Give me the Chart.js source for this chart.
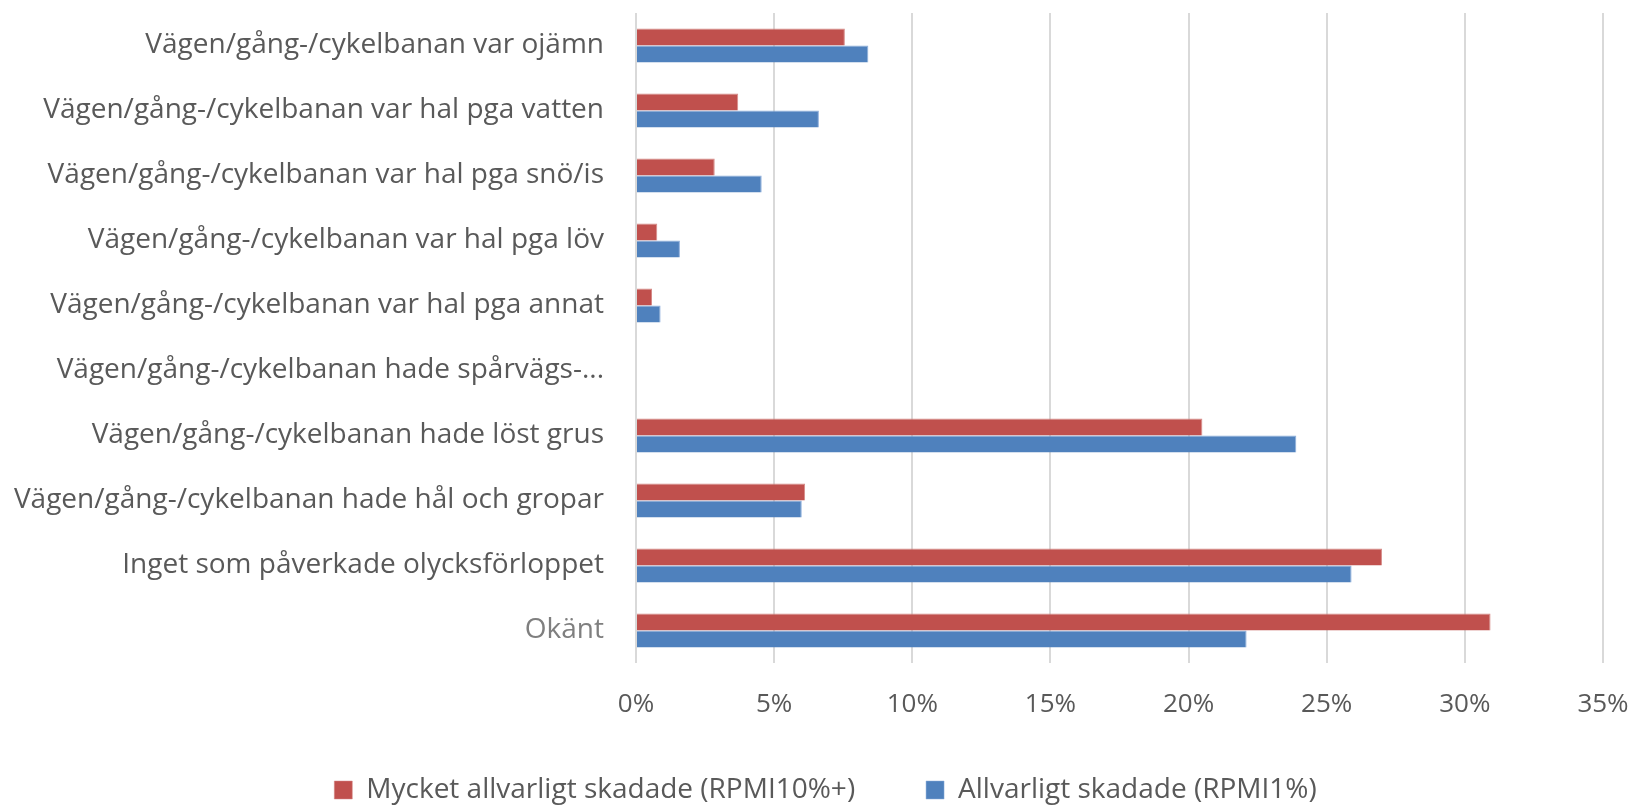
<!DOCTYPE html>
<html>
<head>
<meta charset="utf-8">
<script src="https://cdn.jsdelivr.net/npm/chart.js@4"></script>
<style>
  html, body { margin: 0; padding: 0; background: #fff; }
  canvas { display: block; }
</style>
</head>
<body>
<canvas id="chart" width="1635" height="805"></canvas>
<script>
// Categories, top to bottom
const categories = [
  'Vägen/gång-/cykelbanan var ojämn',
  'Vägen/gång-/cykelbanan var hal pga vatten',
  'Vägen/gång-/cykelbanan var hal pga snö/is',
  'Vägen/gång-/cykelbanan var hal pga löv',
  'Vägen/gång-/cykelbanan var hal pga annat',
  'Vägen/gång-/cykelbanan hade spårvägs-...',
  'Vägen/gång-/cykelbanan hade löst grus',
  'Vägen/gång-/cykelbanan hade hål och gropar',
  'Inget som påverkade olycksförloppet',
  'Okänt'
]

const seriesNames = ['Mycket allvarligt skadade (RPMI10%+)', 'Allvarligt skadade (RPMI1%)']

// percent values
const mycketAllvarligt = [7.56, 3.70, 2.85, 0.77, 0.58, 0, 20.5, 6.12, 27.0, 30.93]
const allvarligt = [8.41, 6.62, 4.55, 1.59, 0.89, 0, 23.9, 6.0, 25.9, 22.1]

const xMin = 0
const xMax = 35
const xStep = 5

const textColor = '#595959'
const fontFamily = '"Open Sans", sans-serif'
const noColor = 'rgba(0,0,0,0)'

// nudge the legend a bit right so it sits like the original
const legendShift = {
  id: 'legendShift',
  afterLayout(chart) {
    if (chart.legend) {
      chart.legend.left += 24
      chart.legend.right += 24
    }
  }
}

new Chart(document.getElementById('chart'), {
  type: 'bar',
  data: {
    labels: categories,
    datasets: [
      {
        label: seriesNames[0],
        data: mycketAllvarligt,
        backgroundColor: '#C0504D',
        borderColor: '#D68B89',
        borderWidth: { top: 1, right: 1, bottom: 0, left: 0 },
        borderSkipped: 'start'
      },
      {
        label: seriesNames[1],
        data: allvarligt,
        backgroundColor: '#4F81BD',
        borderColor: '#8DAEDB',
        borderWidth: { top: 1, right: 1, bottom: 0, left: 0 },
        borderSkipped: 'start'
      }
    ]
  },
  plugins: [legendShift],
  options: {
    indexAxis: 'y',
    responsive: false,
    animation: false,
    categoryPercentage: 0.52,
    barPercentage: 1,
    layout: { padding: { top: 13, right: 32, left: 0, bottom: -9 } },
    scales: {
      x: {
        min: xMin,
        max: xMax,
        grid: { color: '#D9D9D9', lineWidth: 2, drawTicks: true, tickLength: 26, tickColor: noColor },
        border: { display: false },
        ticks: {
          stepSize: xStep,
          color: textColor,
          font: { family: fontFamily, size: 26 },
          padding: 0,
          callback: (v) => v + '%'
        },
        afterFit: (scale) => { scale.height = 93 }
      },
      y: {
        grid: { display: true, drawOnChartArea: false, drawTicks: true, tickLength: 32, tickColor: noColor },
        border: { display: false },
        ticks: {
          color: (ctx) => ctx.index === categories.length - 1 ? '#7F7F7F' : textColor,
          font: { family: fontFamily, size: 28, lineHeight: 0.9 },
          padding: 0,
          autoSkip: false
        },
        afterFit: (scale) => { scale.width = 636 }
      }
    },
    plugins: {
      legend: {
        position: 'bottom',
        labels: {
          color: textColor,
          font: { family: fontFamily, size: 28 },
          boxWidth: 18,
          boxHeight: 18,
          padding: 20,
          generateLabels: (chart) => {
            const items = Chart.defaults.plugins.legend.labels.generateLabels(chart)
            // wider gap after the first entry
            items[0].text += '\u00A0'.repeat(7)
            return items
          }
        }
      },
      tooltip: { enabled: false }
    }
  }
})
</script>
</body>
</html>
